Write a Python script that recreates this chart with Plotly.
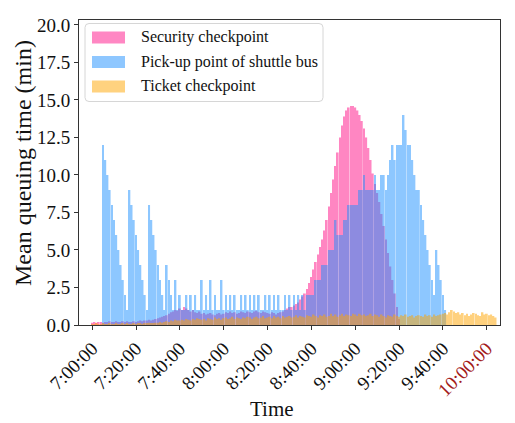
import plotly.graph_objects as go

# Minutes after 7:00:00, one bar per minute
minute = list(range(185))

# Mean queuing time (min) at the security checkpoint
security = [
    0.15, 0.2, 0.15, 0.2, 0.2, 0.15, 0.2, 0.2, 0.25, 0.2,
    0.2, 0.25, 0.2, 0.2, 0.25, 0.2, 0.25, 0.2, 0.2, 0.25,
    0.2, 0.25, 0.3, 0.25, 0.3, 0.3, 0.35, 0.3, 0.35, 0.4,
    0.45, 0.5, 0.55, 0.6, 0.65, 0.75, 0.85, 0.9, 1.0, 0.95,
    1.1, 1.0, 1.2, 1.1, 1.0, 0.9, 1.0, 0.85, 0.8, 0.9,
    0.75, 0.8, 0.7, 0.75, 0.8, 0.7, 0.65, 0.75, 0.8, 0.7,
    0.75, 0.85, 0.8, 0.9, 0.8, 0.85, 0.75, 0.8, 0.9, 0.85,
    0.8, 0.9, 0.85, 0.8, 0.9, 0.95, 0.85, 0.8, 0.9, 0.85,
    0.8, 0.75, 0.85, 0.8, 0.7, 0.8, 0.85, 0.9, 1.0, 1.1,
    1.2, 1.2, 1.3, 1.4, 1.5, 1.7, 1.9, 2.1, 2.4, 2.8,
    3.2, 3.7, 4.2, 4.7, 5.2, 5.7, 6.3, 7.0, 7.9, 8.8,
    9.7, 10.6, 11.5, 12.5, 13.3, 13.9, 14.3, 14.5, 14.6, 14.6,
    14.5, 14.3, 14.0, 13.6, 13.1, 12.5, 11.8, 11.0, 10.1, 9.4,
    8.8, 8.2, 7.4, 6.6, 5.7, 4.8, 3.9, 3.0, 2.1, 1.2,
    0.4, 0, 0, 0, 0, 0, 0, 0, 0, 0,
    0, 0, 0, 0, 0, 0, 0, 0, 0, 0,
    0, 0, 0, 0, 0, 0, 0, 0, 0, 0,
    0, 0, 0, 0, 0, 0, 0, 0, 0, 0,
    0, 0, 0, 0, 0,
]

# Mean queuing time (min) at the shuttle bus pick-up point
pickup = [
    0, 0, 0, 0, 0, 12, 11, 10, 9, 8,
    7, 6, 5, 4, 3, 2, 1, 9, 8, 7,
    6, 5, 4, 3, 2, 1, 8, 7, 6, 5,
    4, 3, 2, 1, 4, 3, 2, 1, 3, 1,
    2, 1, 1, 2, 1, 2, 1, 2, 1, 1,
    3, 1, 2, 1, 3, 1, 2, 1, 1, 3,
    1, 2, 1, 2, 1, 2, 1, 1, 2, 1,
    2, 1, 2, 1, 2, 1, 2, 1, 1, 2,
    1, 2, 1, 2, 1, 2, 1, 1, 2, 1,
    2, 1, 2, 1, 2, 1, 2, 1, 2, 2,
    2, 2, 3, 3, 3, 4, 4, 4, 5, 5,
    5, 7, 6, 6, 6, 7, 7, 8, 8, 8,
    8, 8, 9, 9, 10, 9, 9, 9, 9, 10,
    9, 9, 10, 10, 9, 10, 11, 12, 11, 12,
    12, 12, 14, 13, 12, 12, 11, 10, 9, 9,
    8, 7, 6, 5, 4, 3, 2, 5, 4, 3,
    2, 1, 0, 0, 0, 0, 0, 0, 0, 0,
    0, 0, 0, 0, 0, 0, 0, 0, 0, 0,
    0, 0, 0, 0, 0,
]

# Mean queuing time (min) at the ticket checkpoint
ticket = [
    0.05, 0.05, 0.1, 0.05, 0.05, 0.1, 0.05, 0.05, 0.1, 0.05,
    0.05, 0.1, 0.05, 0.05, 0.1, 0.05, 0.1, 0.05, 0.05, 0.1,
    0.05, 0.1, 0.1, 0.05, 0.1, 0.1, 0.15, 0.1, 0.1, 0.15,
    0.15, 0.2, 0.15, 0.2, 0.25, 0.2, 0.3, 0.25, 0.35, 0.3,
    0.3, 0.35, 0.3, 0.4, 0.35, 0.3, 0.4, 0.35, 0.45, 0.4,
    0.35, 0.4, 0.3, 0.45, 0.4, 0.35, 0.5, 0.4, 0.45, 0.35,
    0.45, 0.5, 0.4, 0.45, 0.55, 0.4, 0.5, 0.45, 0.4, 0.5,
    0.45, 0.55, 0.5, 0.4, 0.5, 0.55, 0.45, 0.5, 0.6, 0.45,
    0.5, 0.55, 0.45, 0.6, 0.5, 0.55, 0.45, 0.6, 0.5, 0.55,
    0.6, 0.5, 0.55, 0.65, 0.5, 0.6, 0.55, 0.5, 0.65, 0.6,
    0.55, 0.7, 0.6, 0.5, 0.65, 0.6, 0.7, 0.55, 0.6, 0.75,
    0.6, 0.7, 0.55, 0.65, 0.75, 0.6, 0.7, 0.65, 0.6, 0.75,
    0.7, 0.6, 0.75, 0.65, 0.7, 0.6, 0.65, 0.75, 0.6, 0.7,
    0.65, 0.55, 0.7, 0.6, 0.5, 0.65, 0.6, 0.55, 0.7, 0.6,
    0.55, 0.65, 0.6, 0.7, 0.55, 0.6, 0.65, 0.5, 0.6, 0.65,
    0.6, 0.55, 0.7, 0.6, 0.65, 0.55, 0.7, 0.6, 0.65, 0.7,
    0.75, 0.8, 0.7, 0.85, 1.0, 0.9, 0.8, 0.85, 0.7, 0.8,
    0.65, 0.75, 0.6, 0.7, 0.8, 0.75, 0.65, 0.6, 0.85, 0.7,
    0.75, 0.65, 0.7, 0.6, 0.5,
]

tick_minutes = [0, 20, 40, 60, 80, 100, 120, 140, 160, 180]
tick_labels = ["7:00:00", "7:20:00", "7:40:00", "8:00:00", "8:20:00",
               "8:40:00", "9:00:00", "9:20:00", "9:40:00",
               '<span style="color:#a31b1b">10:00:00</span>']
y_ticks = [0, 2.5, 5, 7.5, 10, 12.5, 15, 17.5, 20]
y_labels = ["0.0", "2.5", "5.0", "7.5", "10.0", "12.5", "15.0", "17.5", "20.0"]

series_names = ["Security checkpoint", "Pick-up point of shuttle bus", "Ticket checkpoint"]
series_colors = ["rgb(255,105,180)", "rgb(30,144,255)", "rgb(255,165,0)"]
series_alpha = [0.8, 0.5, 0.5]

FONT = "Liberation Serif"
W, H = 515, 423
L, R, T, B = 79, 15, 20, 98
PW, PH = W - L - R, H - T - B


def px(x):
    return (x - L) / PW


def py(y):
    return (H - B - y) / PH


fig = go.Figure()
for name, vals, col, a in zip(series_names, [security, pickup, ticket], series_colors, series_alpha):
    fig.add_trace(go.Bar(
        x=minute, y=vals, name=name, width=0.8,
        marker=dict(color=col, line=dict(width=0)),
        opacity=a, showlegend=False,
    ))

# Legend box drawn by hand (wide colour patches)
shapes = []
x0, x1, y0, y1, r = 85, 323, 23.5, 101.5, 4
path = (f"M {px(x0 + r)},{py(y0)} L {px(x1 - r)},{py(y0)} "
        f"Q {px(x1)},{py(y0)} {px(x1)},{py(y0 + r)} L {px(x1)},{py(y1 - r)} "
        f"Q {px(x1)},{py(y1)} {px(x1 - r)},{py(y1)} L {px(x0 + r)},{py(y1)} "
        f"Q {px(x0)},{py(y1)} {px(x0)},{py(y1 - r)} L {px(x0)},{py(y0 + r)} "
        f"Q {px(x0)},{py(y0)} {px(x0 + r)},{py(y0)} Z")
shapes.append(dict(type="path", xref="paper", yref="paper", path=path,
                   fillcolor="rgba(255,255,255,0.85)", line=dict(color="#d6d6d6", width=1)))
annotations = []
for i, (name, col, a) in enumerate(zip(series_names, series_colors, series_alpha)):
    cy = 37.5 + i * 24.5
    shapes.append(dict(type="rect", xref="paper", yref="paper",
                       x0=px(92), x1=px(125), y0=py(cy + 6), y1=py(cy - 6),
                       fillcolor=col, opacity=a, line=dict(width=0)))
    annotations.append(dict(xref="paper", yref="paper", x=px(139), y=py(cy),
                            xanchor="left", yanchor="middle", showarrow=False,
                            text=name, font=dict(family=FONT, size=16, color="#111")))

annotations.append(dict(xref="paper", yref="paper", x=px(272), y=py(409),
                        xanchor="center", yanchor="middle", showarrow=False,
                        text="Time", font=dict(family=FONT, size=21, color="#111")))
annotations.append(dict(xref="paper", yref="paper", x=px(23), y=py(163),
                        xanchor="center", yanchor="middle", showarrow=False, textangle=-90,
                        text="Mean queuing time (min)", font=dict(family=FONT, size=24, color="#111")))

fig.update_layout(
    width=W, height=H,
    margin=dict(l=L, r=R, t=T, b=B, pad=0),
    paper_bgcolor="white", plot_bgcolor="white",
    barmode="overlay",
    shapes=shapes, annotations=annotations,
    font=dict(family=FONT, color="#111"),
)
fig.update_xaxes(
    range=[-6, 186], tickmode="array", tickvals=tick_minutes, ticktext=tick_labels,
    tickangle=-45, tickfont=dict(family=FONT, size=19, color="#111"),
    ticks="outside", ticklen=4, tickcolor="#333", showgrid=False, zeroline=False,
    showline=True, linecolor="#333", linewidth=1, mirror=True,
)
fig.update_yaxes(
    range=[0, 20.33], tickmode="array", tickvals=y_ticks, ticktext=y_labels,
    tickfont=dict(family=FONT, size=19, color="#111"),
    ticks="outside", ticklen=4, tickcolor="#333", showgrid=False, zeroline=False,
    showline=True, linecolor="#333", linewidth=1, mirror=True,
)

fig.write_html("out.html")
